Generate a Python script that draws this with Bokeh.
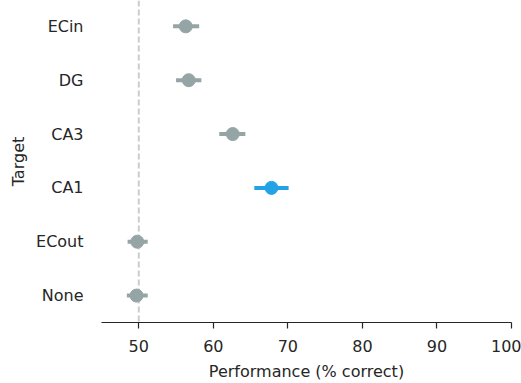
from bokeh.plotting import figure
from bokeh.models import Span, FixedTicker, Range1d
from bokeh.embed import file_html
from bokeh.resources import INLINE

targets = ["None", "ECout", "CA1", "CA3", "DG", "ECin"]
perf_mean = [49.7, 49.8, 67.8, 62.6, 56.7, 56.3]
perf_low = [48.4, 48.5, 65.5, 60.8, 55.0, 54.6]
perf_high = [51.2, 51.2, 70.1, 64.3, 58.4, 58.1]
highlight = "CA1"
chance = 50
x_ticks = [50, 60, 70, 80, 90, 100]

GRAY = "#95a5a6"
BLUE = "#23a3e6"

ypos = list(range(len(targets)))
colors = [BLUE if t == highlight else GRAY for t in targets]

p = figure(width=521, height=383, output_backend="svg", toolbar_location=None,
           x_range=Range1d(45, 100), y_range=Range1d(-0.5, 5.48),
           min_border_left=101, min_border_right=10, min_border_top=0, min_border_bottom=60)
p.outline_line_color = None
p.grid.visible = False
p.background_fill_color = "white"

p.add_layout(Span(location=chance, dimension="height", line_color="#cccccc",
                  line_dash="6 3", line_width=2, level="underlay"))

p.segment(x0=perf_low, x1=perf_high, y0=ypos, y1=ypos, line_color=colors, line_width=4)
p.scatter(x=perf_mean, y=ypos, size=13, fill_color=colors, line_color=colors)

p.xaxis.ticker = FixedTicker(ticks=x_ticks)
p.xaxis.axis_label = "Performance (% correct)"
p.xaxis.axis_line_color = "#262626"
p.xaxis.axis_line_width = 1.2
p.xaxis.major_tick_line_color = "#262626"
p.xaxis.major_tick_line_width = 1.2
p.xaxis.major_tick_out = 6
p.xaxis.major_tick_in = 0
p.xaxis.minor_tick_line_color = None
p.xaxis.major_label_standoff = 11
p.xaxis.axis_label_standoff = 7

p.yaxis.ticker = FixedTicker(ticks=ypos)
p.yaxis.major_label_overrides = {i: t for i, t in enumerate(targets)}
p.yaxis.axis_label = "Target"
p.yaxis.axis_line_color = None
p.yaxis.major_tick_line_color = None
p.yaxis.minor_tick_line_color = None
p.yaxis.major_tick_out = 0
p.yaxis.major_label_standoff = 18
p.yaxis.axis_label_standoff = 5

for ax in (p.xaxis[0], p.yaxis[0]):
    ax.major_label_text_font = "DejaVu Sans"
    ax.major_label_text_font_size = "16px"
    ax.major_label_text_color = "#262626"
    ax.axis_label_text_font = "DejaVu Sans"
    ax.axis_label_text_font_size = "16px"
    ax.axis_label_text_font_style = "normal"
    ax.axis_label_text_color = "#262626"

open("out.html", "w").write(file_html(p, INLINE))
